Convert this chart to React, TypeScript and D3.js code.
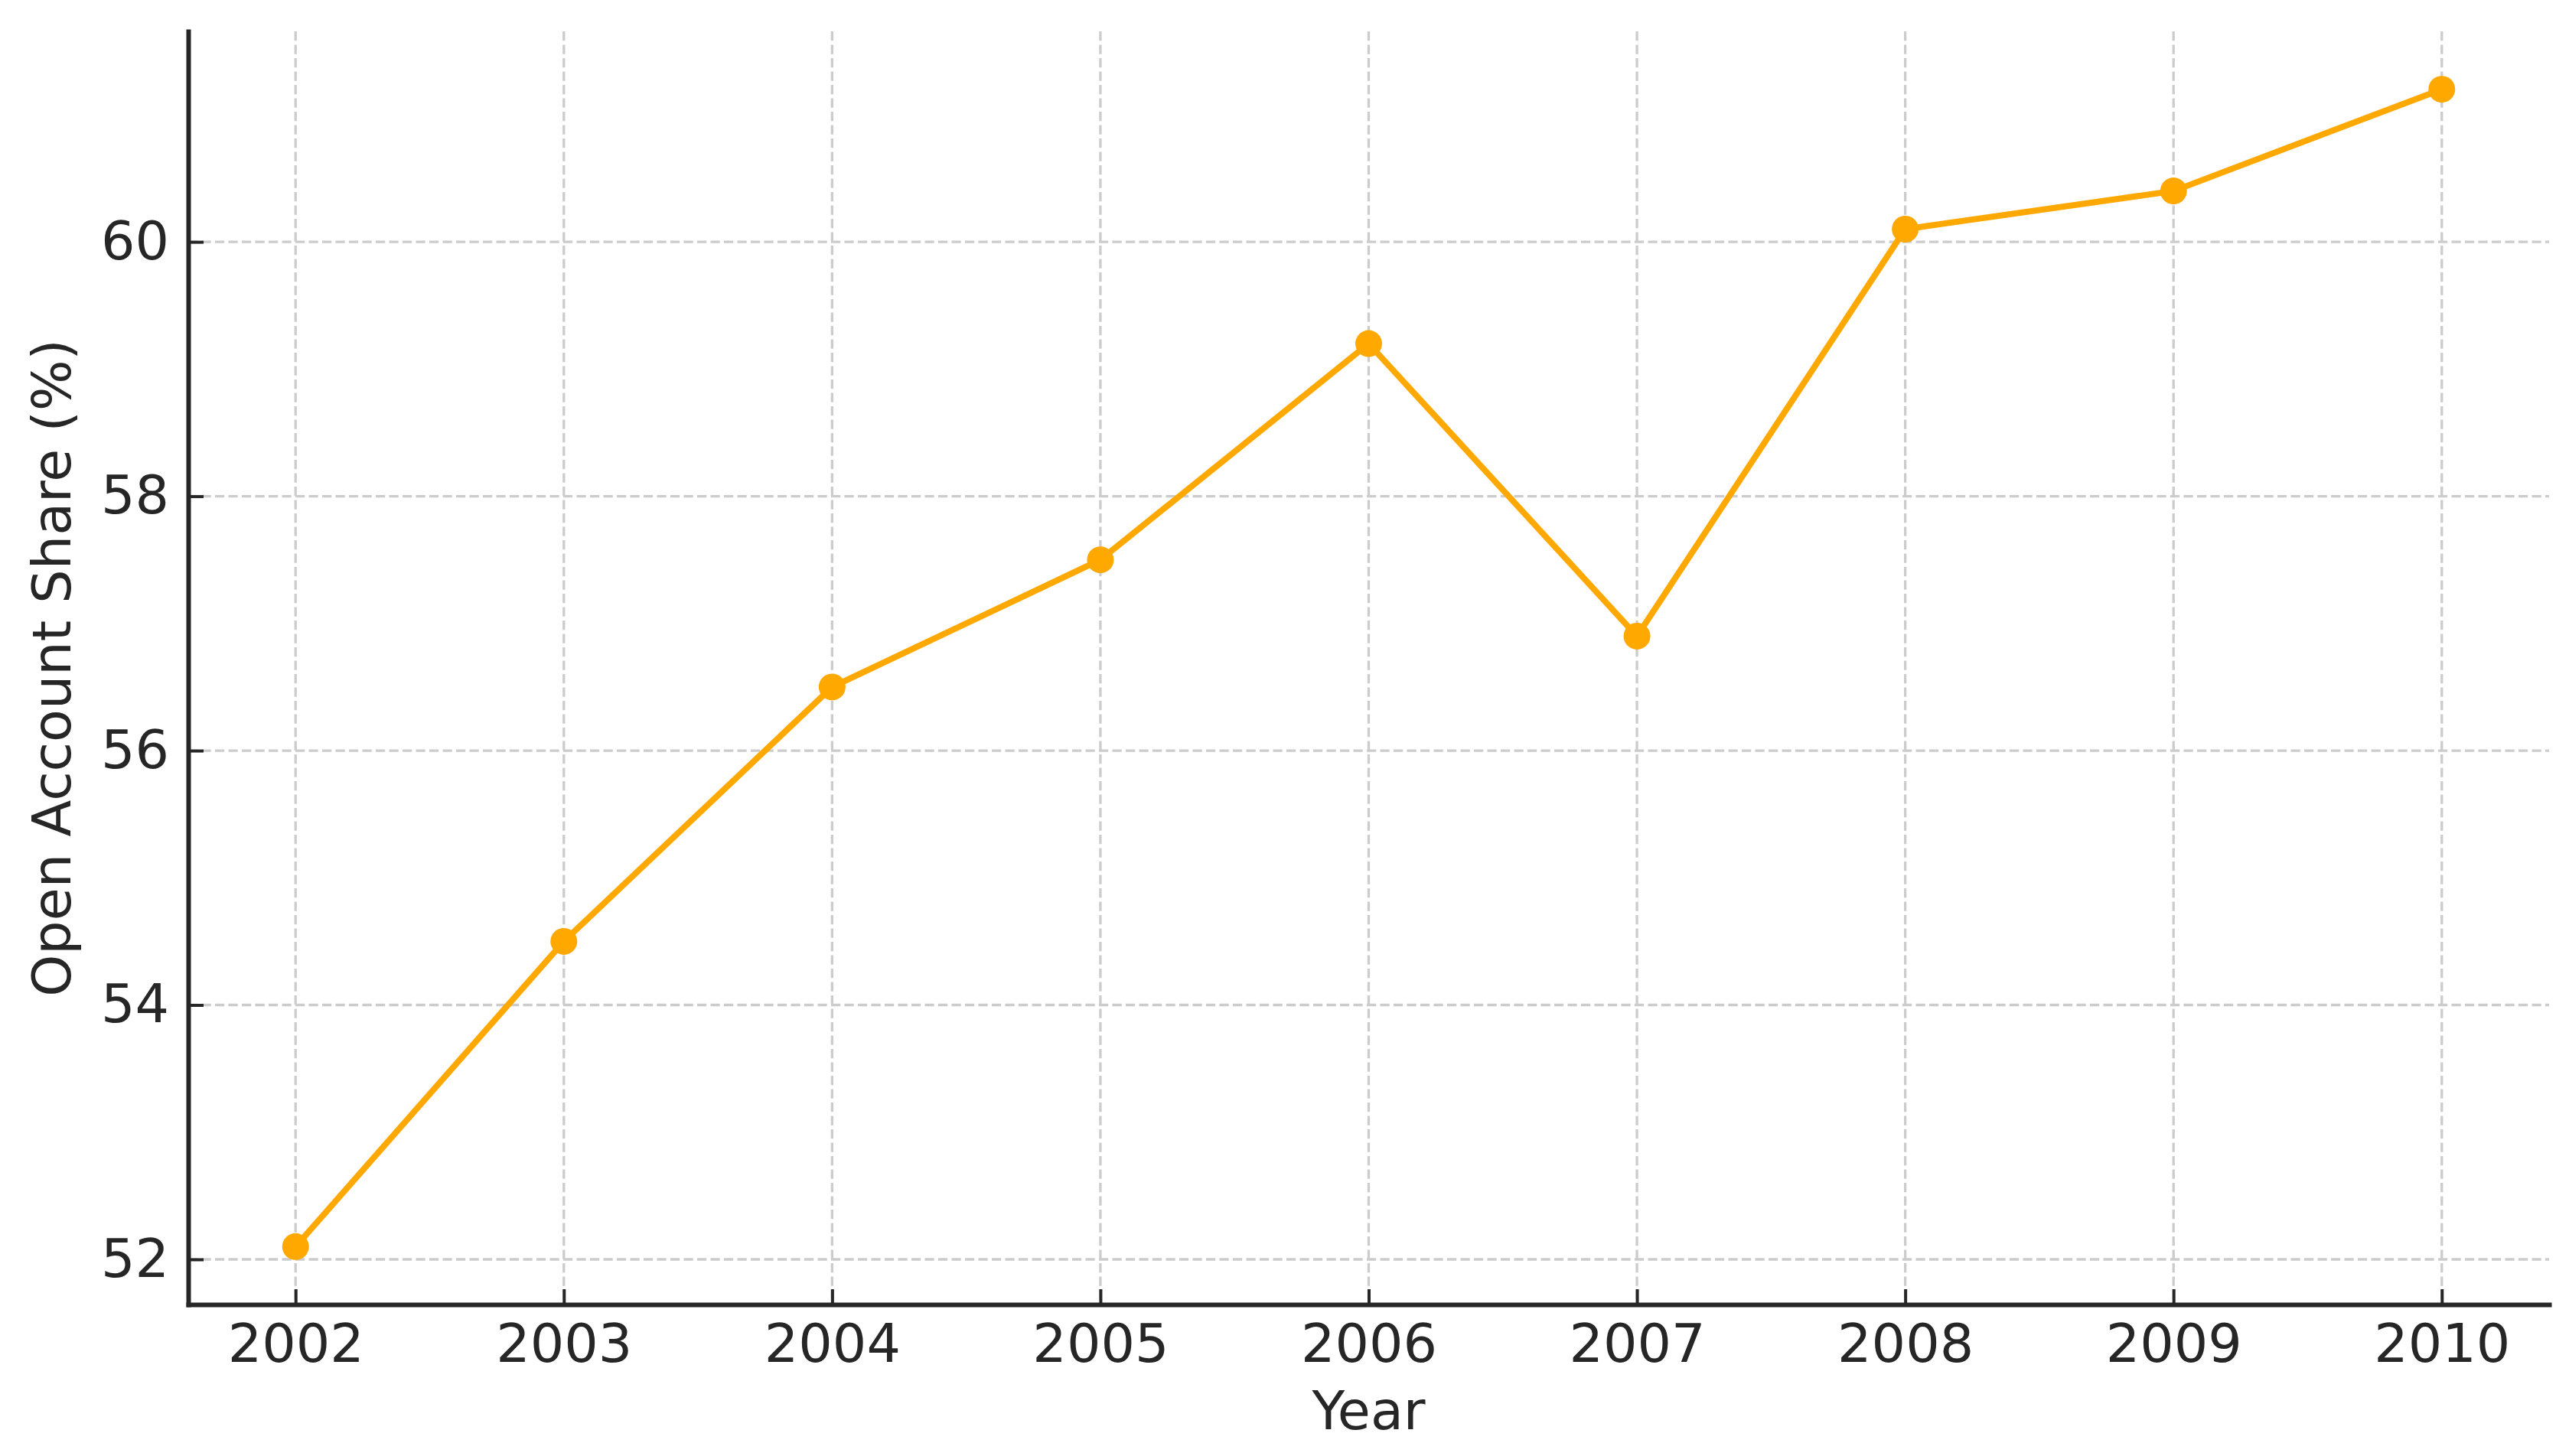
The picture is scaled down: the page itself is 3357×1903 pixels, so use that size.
import React, { useEffect, useRef } from 'react';
import * as d3 from 'd3';

const years = [2002, 2003, 2004, 2005, 2006, 2007, 2008, 2009, 2010];
const shares = [52.1, 54.5, 56.5, 57.5, 59.2, 56.9, 60.1, 60.4, 61.2];
const yTicks = [52, 54, 56, 58, 60];

const W = 3357;
const H = 1903;

const App: React.FC = () => {
  const svgRef = useRef<SVGSVGElement>(null);

  useEffect(() => {
    if (!svgRef.current) return;
    const svg = d3.select(svgRef.current);
    svg.selectAll('*').remove();

    const left = 246;
    const right = 3331;
    const top = 41;
    const bottom = 1705;
    const font = 'DejaVu Sans, sans-serif';
    const ink = '#262626';
    const orange = '#FFA800';

    const xScale = d3.scaleLinear().domain([2001.6, 2010.4]).range([left, right]);
    const yScale = d3.scaleLinear().domain([51.645, 61.655]).range([bottom, top]);

    // grid
    const grid = svg.append('g')
      .attr('stroke', '#cccccc')
      .attr('stroke-width', 3.3)
      .attr('stroke-dasharray', '12.2,5.3');

    grid.selectAll('.vgrid')
      .data(years)
      .enter()
      .append('line')
      .attr('x1', d => xScale(d))
      .attr('x2', d => xScale(d))
      .attr('y1', top)
      .attr('y2', bottom);

    grid.selectAll('.hgrid')
      .data(yTicks)
      .enter()
      .append('line')
      .attr('x1', left)
      .attr('x2', right)
      .attr('y1', d => yScale(d))
      .attr('y2', d => yScale(d));

    // line + markers
    const pts = years.map((y, i) => [y, shares[i]] as [number, number]);
    const line = d3.line<[number, number]>()
      .x(d => xScale(d[0]))
      .y(d => yScale(d[1]));

    svg.append('path')
      .datum(pts)
      .attr('d', line)
      .attr('fill', 'none')
      .attr('stroke', orange)
      .attr('stroke-width', 8)
      .attr('stroke-linejoin', 'round');

    svg.selectAll('.dot')
      .data(pts)
      .enter()
      .append('circle')
      .attr('cx', d => xScale(d[0]))
      .attr('cy', d => yScale(d[1]))
      .attr('r', 17.5)
      .attr('fill', orange);

    // axes
    const xAxis = svg.append('g')
      .attr('transform', `translate(0,${bottom})`)
      .call(
        d3.axisBottom(xScale)
          .tickValues(years)
          .tickFormat(d3.format('d'))
          .tickSizeInner(-20)
          .tickSizeOuter(0)
          .tickPadding(25)
      );

    const yAxis = svg.append('g')
      .attr('transform', `translate(${left},0)`)
      .call(
        d3.axisLeft(yScale)
          .tickValues(yTicks)
          .tickSizeInner(-20)
          .tickSizeOuter(0)
          .tickPadding(25)
      );

    [xAxis, yAxis].forEach(a => {
      a.select('.domain').attr('stroke', ink).attr('stroke-width', 6).attr('stroke-linecap', 'square');
      a.selectAll('.tick line').attr('stroke', ink).attr('stroke-width', 4);
      a.selectAll('.tick text')
        .attr('fill', ink)
        .attr('font-size', 70)
        .attr('font-family', font);
    });

    // axis labels
    svg.append('text')
      .attr('x', (left + right) / 2)
      .attr('y', 1868)
      .attr('text-anchor', 'middle')
      .attr('fill', ink)
      .attr('font-size', 70)
      .attr('font-family', font)
      .text('Year');

    svg.append('text')
      .attr('transform', `translate(92,${(top + bottom) / 2}) rotate(-90)`)
      .attr('text-anchor', 'middle')
      .attr('fill', ink)
      .attr('font-size', 70)
      .attr('font-family', font)
      .text('Open Account Share (%)');
  }, []);

  return (
    <div style={{ position: 'absolute', left: 0, top: 0, background: '#fff' }}>
      <svg ref={svgRef} width={W} height={H} style={{ display: 'block', background: '#fff' }} />
    </div>
  );
};

export default App;
